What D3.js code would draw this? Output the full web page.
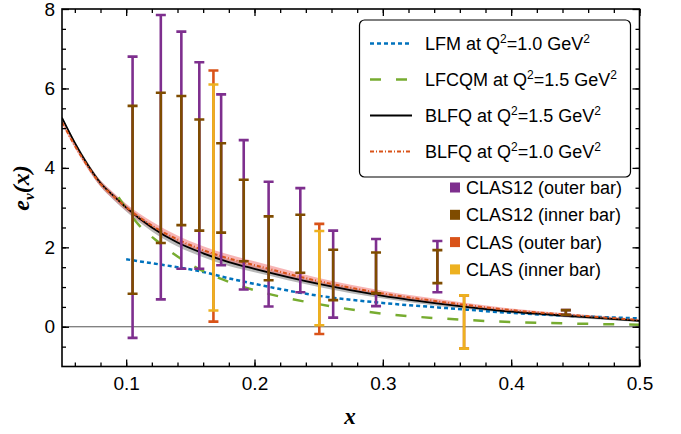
<!DOCTYPE html>
<html>
<head>
<meta charset="utf-8">
<script src="https://cdn.jsdelivr.net/npm/d3@7"></script>
<style>
  body { margin: 0; background: #fff; }
  text { font-family: "Liberation Sans", Arial, sans-serif; }
</style>
</head>
<body>
<div id="chart"></div>
<script>
// x grid shared by the BLFQ curves
var curveX = [0.05, 0.06, 0.07, 0.08, 0.09, 0.1, 0.12, 0.14, 0.16, 0.18, 0.2, 0.25, 0.3, 0.35, 0.4, 0.45, 0.5];
var blfq15 = [5.26, 4.63, 4.08, 3.62, 3.3, 3.0, 2.5, 2.12, 1.85, 1.63, 1.46, 1.08, 0.78, 0.56, 0.38, 0.26, 0.15];
var blfq15Lo = [5.21, 4.57, 4.0, 3.53, 3.2, 2.9, 2.4, 2.02, 1.75, 1.53, 1.37, 1.0, 0.71, 0.5, 0.34, 0.22, 0.12];
var blfq15Hi = [5.3, 4.68, 4.14, 3.68, 3.36, 3.07, 2.57, 2.19, 1.92, 1.7, 1.53, 1.14, 0.84, 0.61, 0.42, 0.29, 0.17];
var blfq10 = [5.15, 4.56, 4.04, 3.6, 3.29, 3.01, 2.55, 2.2, 1.93, 1.72, 1.55, 1.15, 0.84, 0.61, 0.42, 0.29, 0.17];
var blfq10Lo = [5.1, 4.5, 3.97, 3.53, 3.21, 2.93, 2.47, 2.12, 1.85, 1.64, 1.47, 1.08, 0.78, 0.56, 0.38, 0.26, 0.15];
var blfq10Hi = [5.2, 4.62, 4.11, 3.68, 3.38, 3.1, 2.65, 2.3, 2.03, 1.82, 1.65, 1.23, 0.91, 0.67, 0.46, 0.32, 0.19];

var lfmX = [0.1, 0.12, 0.14, 0.16, 0.18, 0.2, 0.25, 0.3, 0.35, 0.4, 0.45, 0.5];
var lfmY = [1.7, 1.6, 1.5, 1.38, 1.22, 1.08, 0.78, 0.6, 0.47, 0.35, 0.27, 0.21];

var lfcqmX = [0.094, 0.11, 0.126, 0.14, 0.16, 0.18, 0.2, 0.22, 0.25, 0.3, 0.35, 0.4, 0.45, 0.5];
var lfcqmY = [3.26, 2.56, 2.11, 1.77, 1.4, 1.13, 0.92, 0.76, 0.57, 0.33, 0.2, 0.12, 0.08, 0.05];

// CLAS12 error bars
var clas12X = [0.105, 0.127, 0.143, 0.157, 0.174, 0.1916, 0.211, 0.2357, 0.2613, 0.2947, 0.3425, 0.4426];
var clas12OuterLo = [-0.28, 0.69, 1.46, 1.46, 1.55, 0.94, 0.51, 0.87, 0.23, 0.52, 0.87, 0.3];
var clas12OuterHi = [6.8, 7.85, 7.43, 6.66, 5.85, 4.7, 3.65, 3.49, 2.42, 2.21, 2.16, 0.42];
var clas12InnerLo = [0.83, 2.11, 2.56, 2.42, 2.37, 1.65, 1.17, 1.36, 0.67, 0.84, 1.1, 0.3];
var clas12InnerHi = [5.56, 5.89, 5.81, 5.22, 4.62, 3.7, 2.78, 2.82, 1.94, 1.87, 1.93, 0.42];

// CLAS error bars
var clasX = [0.168, 0.2505, 0.3633];
var clasOuterLo = [0.13, -0.18, -0.55];
var clasOuterHi = [6.45, 2.59, 0.79];
var clasInnerLo = [0.41, 0.04, -0.55];
var clasInnerHi = [6.1, 2.41, 0.79];

var xTicks = [0.1, 0.2, 0.3, 0.4, 0.5];
var yTicks = [0, 2, 4, 6, 8];

var lineLegend = [
    { label: "LFM at Q", q: "=1.0 GeV", color: "#0072BD", dash: "4,3", width: 2.5 },
    { label: "LFCQM at Q", q: "=1.5 GeV", color: "#77AC30", dash: "11,15", width: 2.5 },
    { label: "BLFQ at Q", q: "=1.5 GeV", color: "#000", dash: null, width: 1.8 },
    { label: "BLFQ at Q", q: "=1.0 GeV", color: "#D95319", dash: "4,2,1,2", width: 2 },
];
var boxLegend = [
    { label: "CLAS12 (outer bar)", color: "#7E2F8E" },
    { label: "CLAS12 (inner bar)", color: "#7F4C00" },
    { label: "CLAS (outer bar)", color: "#D95319" },
    { label: "CLAS (inner bar)", color: "#EDB120" },
];

function makeChart() {
    var W = 681, H = 434;
    var left = 62, right = 639.5, top = 9, bottom = 366.5;

    var svg = d3.select("#chart").append("svg").attr("width", W).attr("height", H);

    var x = d3.scaleLinear().domain([0.05, 0.5]).range([left, right]);
    var y = d3.scaleLinear().domain([-1, 8]).range([bottom, top]);

    svg.append("clipPath").attr("id", "clip")
        .append("rect").attr("x", left).attr("y", top)
        .attr("width", right - left).attr("height", bottom - top);

    var plot = svg.append("g").attr("clip-path", "url(#clip)");

    // zero line
    plot.append("line")
        .attr("x1", left).attr("x2", right)
        .attr("y1", y(0)).attr("y2", y(0))
        .attr("stroke", "#555").attr("stroke-width", 1);

    var area = (lo, hi) => d3.area()
        .curve(d3.curveMonotoneX)
        .x((d, i) => x(curveX[i]))
        .y0((d, i) => y(lo[i]))
        .y1((d, i) => y(hi[i]))(curveX);

    plot.append("path").attr("d", area(blfq15Lo, blfq15Hi))
        .attr("fill", "#888").attr("fill-opacity", 0.6);
    plot.append("path").attr("d", area(blfq10Lo, blfq10Hi))
        .attr("fill", "#f07878").attr("fill-opacity", 0.55);

    var line = (xs, ys) => d3.line()
        .curve(d3.curveMonotoneX)
        .x((d, i) => x(xs[i]))
        .y((d, i) => y(ys[i]))(xs);

    plot.append("path").attr("d", line(lfmX, lfmY))
        .attr("fill", "none").attr("stroke", "#0072BD")
        .attr("stroke-width", 2.5).attr("stroke-dasharray", "4,3");
    plot.append("path").attr("d", line(lfcqmX, lfcqmY))
        .attr("fill", "none").attr("stroke", "#77AC30")
        .attr("stroke-width", 2.5).attr("stroke-dasharray", "11,15");
    plot.append("path").attr("d", line(curveX, blfq15))
        .attr("fill", "none").attr("stroke", "#000").attr("stroke-width", 1.8);
    plot.append("path").attr("d", line(curveX, blfq10))
        .attr("fill", "none").attr("stroke", "#D95319")
        .attr("stroke-width", 2).attr("stroke-dasharray", "4,2,1,2");

    // error bars
    function bars(xs, lo, hi, color) {
        var g = plot.append("g").attr("stroke", color).attr("stroke-width", 2.6);
        xs.forEach((xv, i) => {
            var cx = x(xv);
            g.append("line").attr("x1", cx).attr("x2", cx).attr("y1", y(lo[i])).attr("y2", y(hi[i]));
            g.append("line").attr("x1", cx - 5).attr("x2", cx + 5).attr("y1", y(lo[i])).attr("y2", y(lo[i]));
            g.append("line").attr("x1", cx - 5).attr("x2", cx + 5).attr("y1", y(hi[i])).attr("y2", y(hi[i]));
        });
    }
    bars(clas12X, clas12OuterLo, clas12OuterHi, "#7E2F8E");
    bars(clas12X, clas12InnerLo, clas12InnerHi, "#7F4C00");
    bars(clasX, clasOuterLo, clasOuterHi, "#D95319");
    bars(clasX, clasInnerLo, clasInnerHi, "#EDB120");

    // frame ticks (inward), major and minor
    var minorX = d3.range(0.06, 0.5001, 0.02);
    var minorY = d3.range(-0.5, 8, 0.5);
    function ticks(axis, pos, which, vals) {
        svg.append("g").attr("transform", pos)
            .call(axis(which === "x" ? x : y).tickValues(vals).tickSize(-4).tickFormat(""));
    }
    ticks(d3.axisBottom, "translate(0," + bottom + ")", "x", minorX);
    ticks(d3.axisTop, "translate(0," + top + ")", "x", minorX);
    ticks(d3.axisLeft, "translate(" + left + ",0)", "y", minorY);
    ticks(d3.axisRight, "translate(" + right + ",0)", "y", minorY);

    svg.append("g").attr("transform", "translate(0," + bottom + ")")
        .call(d3.axisBottom(x).tickValues(xTicks).tickSize(-7).tickPadding(10).tickFormat(d3.format(".1f")));
    svg.append("g").attr("transform", "translate(0," + top + ")")
        .call(d3.axisTop(x).tickValues(xTicks).tickSize(-7).tickFormat(""));
    svg.append("g").attr("transform", "translate(" + left + ",0)")
        .call(d3.axisLeft(y).tickValues(yTicks).tickSize(-7).tickPadding(7).tickFormat(d3.format("d")));
    svg.append("g").attr("transform", "translate(" + right + ",0)")
        .call(d3.axisRight(y).tickValues(yTicks).tickSize(-7).tickFormat(""));

    svg.selectAll(".domain").remove();
    svg.selectAll(".tick line").attr("stroke", "#000").attr("stroke-width", 1.3);
    svg.selectAll(".tick text").attr("font-size", 19).attr("fill", "#000")
        .attr("font-family", "'Liberation Sans', Arial, sans-serif");

    svg.append("rect").attr("x", left).attr("y", top)
        .attr("width", right - left).attr("height", bottom - top)
        .attr("fill", "none").attr("stroke", "#000").attr("stroke-width", 1.6);

    // axis labels
    var ylab = svg.append("text")
        .attr("transform", "translate(29,188) rotate(-90)")
        .attr("text-anchor", "middle")
        .style("font-family", "'Liberation Serif', 'Times New Roman', serif")
        .style("font-style", "italic").style("font-weight", "bold")
        .attr("font-size", 24);
    ylab.append("tspan").text("e");
    ylab.append("tspan").attr("font-size", 15).attr("dy", 5).text("ν");
    ylab.append("tspan").attr("dy", -5).text("(x)");

    svg.append("text").attr("x", 350).attr("y", 424)
        .attr("text-anchor", "middle")
        .style("font-family", "'Liberation Serif', 'Times New Roman', serif")
        .style("font-style", "italic").style("font-weight", "bold")
        .attr("font-size", 23).text("x");

    // line legend
    var lg = svg.append("g");
    lg.append("rect").attr("x", 359.5).attr("y", 20).attr("width", 271).attr("height", 157)
        .attr("rx", 5).attr("fill", "#fff").attr("stroke", "#000").attr("stroke-width", 1.2);
    lineLegend.forEach((d, i) => {
        var cy = 43.5 + i * 36;
        lg.append("line").attr("x1", 370).attr("x2", 412).attr("y1", cy).attr("y2", cy)
            .attr("stroke", d.color).attr("stroke-width", d.width)
            .attr("stroke-dasharray", d.dash);
        var t = lg.append("text").attr("x", 425).attr("y", cy + 6.5).attr("font-size", 18);
        t.append("tspan").text(d.label);
        t.append("tspan").attr("font-size", 12).attr("dy", -7).text("2");
        t.append("tspan").attr("dy", 7).text(d.q);
        t.append("tspan").attr("font-size", 12).attr("dy", -7).text("2");
    });

    // marker legend
    boxLegend.forEach((d, i) => {
        var cy = 187.5 + i * 27.3;
        svg.append("rect").attr("x", 450).attr("y", cy - 5).attr("width", 10).attr("height", 10)
            .attr("fill", d.color);
        svg.append("text").attr("x", 466).attr("y", cy + 6.5).attr("font-size", 18).text(d.label);
    });
}
makeChart();
</script>
</body>
</html>
